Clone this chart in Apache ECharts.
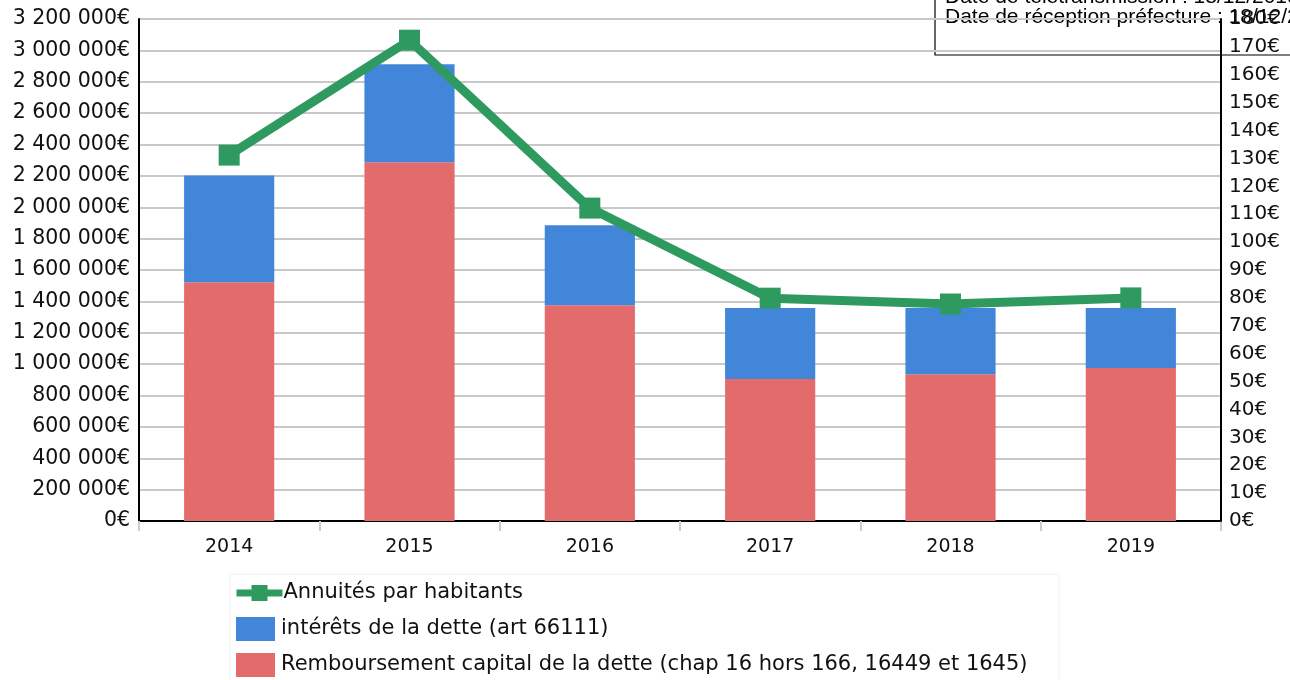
<!DOCTYPE html>
<html>
<head>
<meta charset="utf-8">
<script src="https://cdn.jsdelivr.net/npm/echarts@6/dist/echarts.min.js"></script>
<style>
    html, body { margin: 0; padding: 0; background: #fff; }
    #chart { width: 1290px; height: 680px; }
</style>
</head>
<body>
<div id="chart"></div>
<script>
const years = ['2014', '2015', '2016', '2017', '2018', '2019'];
const capital = [1522000, 2287000, 1376000, 905000, 936000, 975000];
const interets = [680000, 624000, 509000, 452000, 421000, 382000];
const annuites = [131.2, 172.4, 112.2, 79.9, 77.8, 80.0];

const nameLine = 'Annuités par habitants';
const nameInt = 'intérêts de la dette (art 66111)';
const nameCap = 'Remboursement capital de la dette (chap 16 hors 166, 16449 et 1645)';

const FONT = 'DejaVu Sans';
const GREEN = '#2f9a60';

function euros(v) {
    return String(v).replace(/\B(?=(\d{3})+(?!\d))/g, ' ') + '€';
}

let myChart = echarts.init(document.getElementById('chart'));
let option = {
    animation: false,
    textStyle: { fontFamily: FONT },
    grid: { left: 139, right: 69, top: 19, bottom: 159 },
    legend: [
        {
            // line item, smaller symbol
            orient: 'vertical',
            left: 233,
            top: 581,
            padding: 0,
            itemWidth: 46,
            itemHeight: 20,
            textStyle: { fontSize: 21, lineHeight: 24, color: '#111', fontFamily: FONT, padding: [0, 0, 0, -4] },
            data: [
                { name: nameLine, lineStyle: { width: 7, color: GREEN } }
            ]
        },
        {
            orient: 'vertical',
            left: 236,
            top: 617,
            padding: 0,
            itemWidth: 39,
            itemHeight: 24,
            itemGap: 12,
            textStyle: { fontSize: 21, lineHeight: 24, color: '#111', fontFamily: FONT, padding: [0, 0, 0, 1] },
            data: [
                { name: nameInt, icon: 'rect' },
                { name: nameCap, icon: 'rect' }
            ]
        }
    ],
    graphic: [
        {
            // legend frame
            type: 'rect',
            z: 0,
            shape: { x: 230, y: 574, width: 829, height: 120 },
            style: { fill: 'none', stroke: '#f0f0f0', lineWidth: 1 }
        },
        {
            type: 'group',
            z: 1,
            children: [
                {
                    type: 'rect',
                    shape: { x: 935, y: -10, width: 400, height: 65 },
                    style: { fill: '#fff', stroke: '#000', lineWidth: 1.2 }
                },
                {
                    type: 'text',
                    x: 945, y: -13,
                    style: { text: 'Date de télétransmission : 18/12/2019', font: '21px "Liberation Sans"', fill: '#000' }
                },
                {
                    type: 'text',
                    x: 945, y: 7,
                    style: { text: 'Date de réception préfecture : 18/12/2019', font: '21px "Liberation Sans"', fill: '#000' }
                }
            ]
        }
    ],
    xAxis: {
        type: 'category',
        data: years,
        axisLine: { lineStyle: { color: '#000', width: 2 } },
        axisTick: { show: true, length: 10, lineStyle: { color: '#ccc', width: 2 } },
        axisLabel: { fontSize: 19, color: '#111', margin: 17, fontFamily: FONT }
    },
    yAxis: [
        {
            type: 'value',
            min: 0,
            max: 3200000,
            interval: 200000,
            z: 0,
            axisLine: { show: true, lineStyle: { color: '#000', width: 2 } },
            axisTick: { show: false },
            splitLine: { lineStyle: { color: '#c8c8c8', width: 2 } },
            axisLabel: { fontSize: 20.5, color: '#111', margin: 9, fontFamily: FONT, formatter: euros }
        },
        {
            type: 'value',
            min: 0,
            max: 180,
            interval: 10,
            z: 5,
            axisLine: { show: true, lineStyle: { color: '#000', width: 2 } },
            axisTick: { show: false },
            splitLine: { show: false },
            axisLabel: { fontSize: 20, color: '#111', margin: 8, fontFamily: FONT, formatter: '{value}€' }
        }
    ],
    series: [
        {
            name: nameCap,
            type: 'bar',
            stack: 'total',
            barWidth: '50%',
            itemStyle: { color: '#e36b6b' },
            data: capital
        },
        {
            name: nameInt,
            type: 'bar',
            stack: 'total',
            itemStyle: { color: '#4286d9' },
            data: interets
        },
        {
            name: nameLine,
            type: 'line',
            yAxisIndex: 1,
            z: 4,
            symbol: 'rect',
            symbolSize: 21,
            lineStyle: { color: GREEN, width: 9 },
            itemStyle: { color: GREEN },
            data: annuites
        }
    ]
};
myChart.setOption(option);
</script>
</body>
</html>
